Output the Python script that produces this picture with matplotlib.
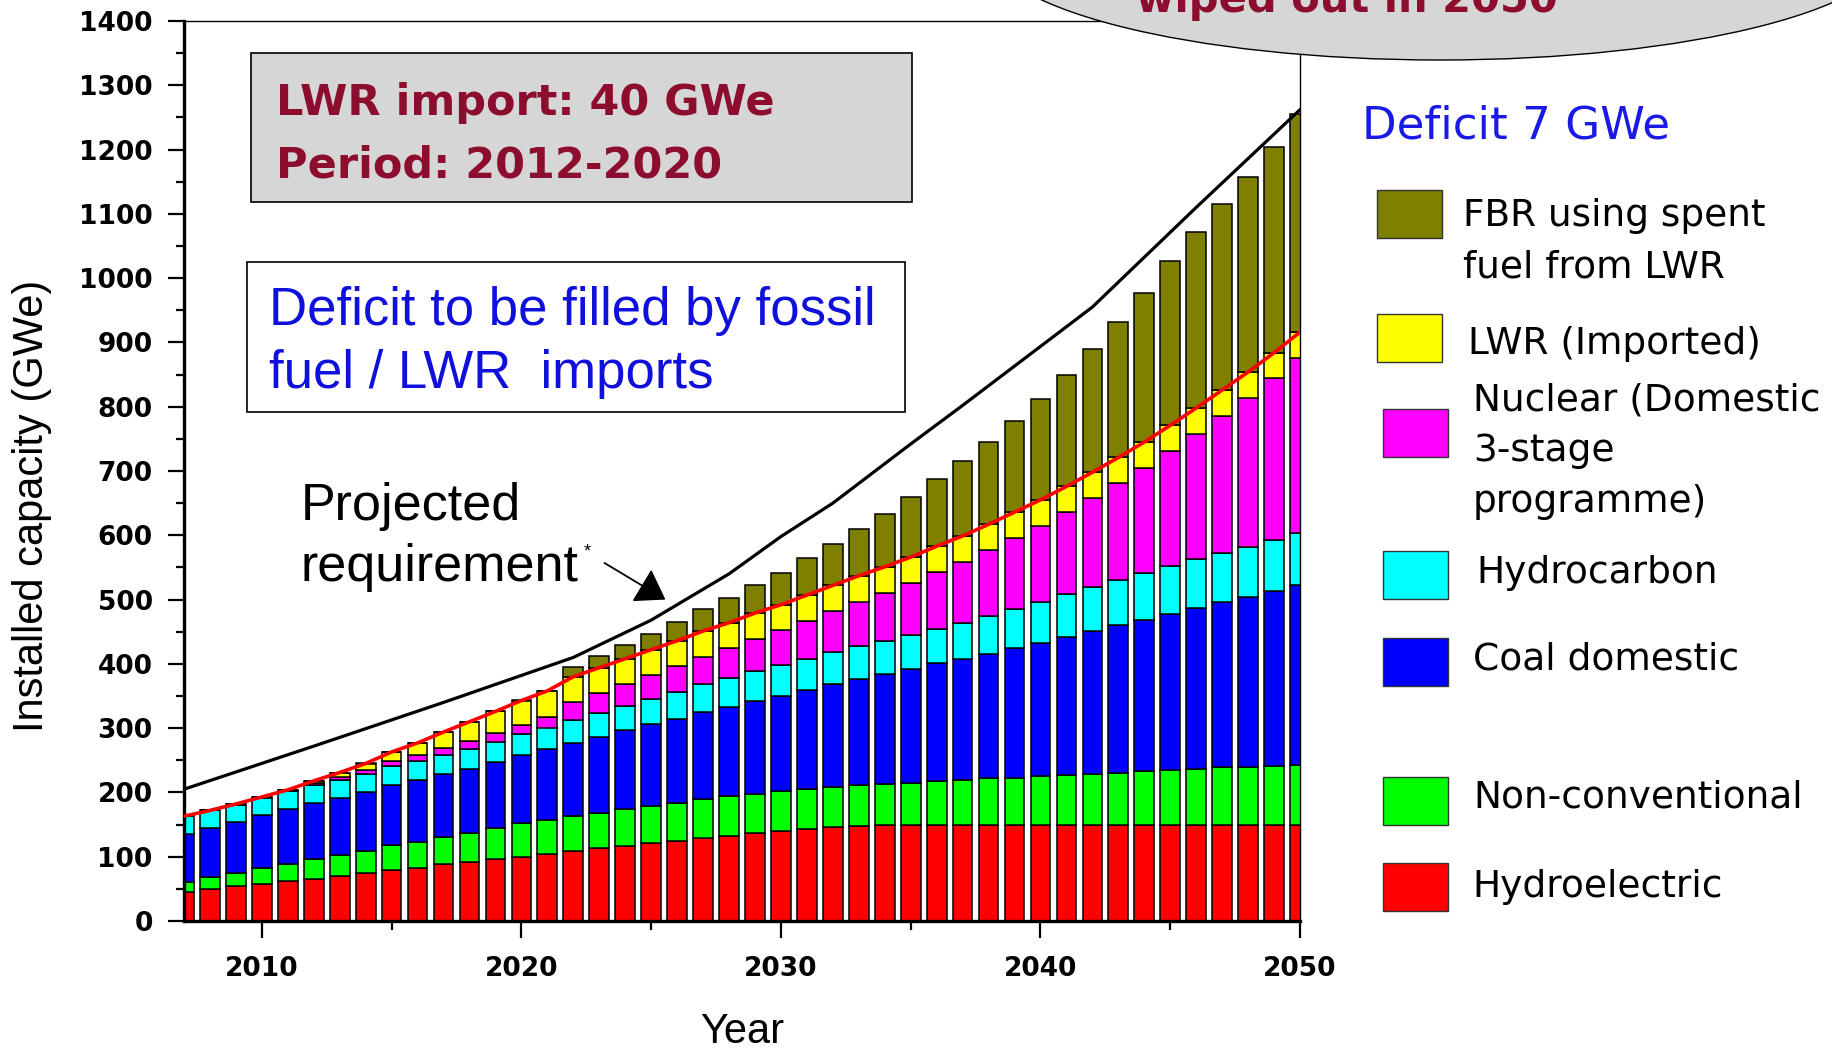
import matplotlib.pyplot as plt
import numpy as np
from matplotlib.patches import Rectangle, Ellipse

# installed capacity (GWe) per year
years = np.arange(2007, 2051)
hydro = [45, 50, 54, 58, 62, 66, 70, 74, 79, 83,
         88, 92, 96, 100, 105, 109, 113, 117, 121, 125,
         129, 133, 137, 140, 143, 146, 148, 150, 150, 150,
         150, 150, 150, 150, 150, 150, 150, 150, 150, 150,
         150, 150, 150, 150]
nonconv = [16, 18, 20, 25, 27, 31, 33, 35, 39, 40,
           42, 45, 48, 52, 52, 54, 55, 57, 58, 59,
           61, 61, 61, 62, 62, 62, 63, 63, 65, 68,
           70, 72, 73, 75, 77, 79, 81, 83, 85, 87,
           89, 90, 91, 93]
coal = [75, 77, 80, 82, 85, 87, 89, 92, 94, 96,
        98, 100, 103, 106, 110, 114, 119, 123, 127, 131,
        135, 139, 144, 148, 154, 160, 166, 171, 177, 183,
        188, 194, 201, 208, 215, 222, 229, 236, 243, 250,
        257, 264, 272, 280]
hydrocarbon = [27, 27, 27, 27, 28, 28, 28, 28, 29, 30,
               30, 31, 32, 33, 34, 35, 36, 37, 39, 41,
               43, 45, 47, 48, 49, 50, 51, 52, 53, 54,
               56, 59, 62, 64, 66, 68, 70, 72, 74, 76,
               77, 78, 79, 80]
nuclear = [0, 0, 1, 1, 2, 3, 4, 6, 8, 9,
           11, 12, 13, 14, 17, 28, 31, 34, 37, 40,
           43, 46, 50, 54, 59, 64, 69, 75, 81, 88,
           95, 102, 110, 118, 128, 139, 151, 164, 179, 195,
           213, 232, 252, 273]
lwr = [0, 0, 0, 0, 0, 3, 7, 10, 14, 19,
       25, 30, 34, 38, 40, 40, 40, 40, 40, 40,
       40, 40, 40, 40, 40, 40, 40, 40, 40, 40,
       40, 40, 40, 40, 40, 40, 40, 40, 40, 40,
       40, 40, 40, 40]
fbr = [0, 0, 0, 0, 0, 0, 0, 0, 0, 0,
       0, 0, 0, 0, 0, 15, 18, 22, 25, 29,
       34, 39, 44, 50, 57, 65, 73, 82, 93, 104,
       116, 128, 142, 157, 173, 191, 210, 232, 255, 274,
       290, 304, 320, 340]

req_years = [2007, 2012, 2017, 2022, 2025, 2028, 2030, 2032, 2035, 2037, 2042, 2046, 2050]
req_vals = [205, 272, 340, 410, 468, 540, 598, 650, 742, 802, 955, 1110, 1262]

series = [hydro, nonconv, coal, hydrocarbon, nuclear, lwr, fbr]
colors = ['#ff0000', '#00ff00', '#0000ff', '#00ffff', '#ff00ff', '#ffff00', '#808000']
labels = ['Hydroelectric', 'Non-conventional', 'Coal domestic', 'Hydrocarbon',
          'Nuclear (Domestic\n3-stage\nprogramme)', 'LWR (Imported)',
          'FBR using spent\nfuel from LWR']

W, H = 1833, 1052


def fx(x):
    return x / W


def fy(y):
    return 1 - y / H


fig = plt.figure(figsize=(W / 100, H / 100), dpi=100)
ax = fig.add_axes([fx(184), fy(921), (1300 - 184) / W, (921 - 21) / H])

bottom = np.zeros(len(years))
for vals, c in zip(series, colors):
    ax.bar(years, vals, bottom=bottom, width=0.76, color=c,
           edgecolor='black', linewidth=1.1, zorder=2)
    bottom += np.array(vals)

domestic = np.sum(series[:6], axis=0)
ax.plot(years, domestic, color='red', lw=2.6, zorder=4)
ax.plot(req_years, req_vals, color='black', lw=2.3, zorder=4)

ax.set_xlim(2007, 2050)
ax.set_ylim(0, 1400)
ax.set_xticks(range(2010, 2051, 10))
ax.set_xticks(range(2015, 2050, 10), minor=True)
ax.set_yticks(range(0, 1401, 100))
ax.set_yticks(range(50, 1400, 100), minor=True)
ax.tick_params(axis='both', which='both', direction='out', width=1.6,
               top=False, right=False)
ax.tick_params(axis='y', which='major', length=11.5, pad=11)
ax.tick_params(axis='y', which='minor', length=5.5)
ax.tick_params(axis='x', which='major', length=12, pad=13)
ax.tick_params(axis='x', which='minor', length=6.5)
for lab in ax.get_xticklabels() + ax.get_yticklabels():
    lab.set_fontweight('bold')
    lab.set_fontsize(19)
    lab.set_family('DejaVu Sans')
for s in ['left', 'bottom']:
    ax.spines[s].set_linewidth(2.4)
for s in ['top', 'right']:
    ax.spines[s].set_linewidth(1.0)

# axis titles
fig.text(fx(742), fy(1043), 'Year', fontsize=30, family='Liberation Sans',
         ha='center', va='baseline')
fig.text(fx(32), fy(506), 'Installed capacity (GWe)', fontsize=30,
         family='Liberation Sans', rotation=90, ha='center', va='center')

# bubble at the top right
fig.add_artist(Ellipse((fx(1440), fy(-57)), 912 / W, 234 / H, transform=fig.transFigure,
                       facecolor='#d6d6d6', edgecolor='black', lw=1.0, zorder=5))
fig.text(fx(1347), fy(12), 'wiped out in 2050', fontsize=30, fontweight='bold',
         color='#8c0d2e', ha='center', va='baseline', zorder=6)

# LWR import box
fig.add_artist(Rectangle((fx(251), fy(202)), (912 - 251) / W, (202 - 53) / H,
                         transform=fig.transFigure, facecolor='#d6d6d6',
                         edgecolor='black', lw=1.2, zorder=5))
fig.text(fx(276), fy(115), 'LWR import: 40 GWe', fontsize=31, fontweight='bold',
         color='#8c0d2e', va='baseline', zorder=6)
fig.text(fx(276), fy(177), 'Period: 2012-2020', fontsize=31, fontweight='bold',
         color='#8c0d2e', va='baseline', zorder=6)

# deficit box
fig.add_artist(Rectangle((fx(247), fy(412)), (905 - 247) / W, (412 - 262) / H,
                         transform=fig.transFigure, facecolor='white',
                         edgecolor='black', lw=1.2, zorder=5))
fig.text(fx(269), fy(325), 'Deficit to be filled by fossil', fontsize=38,
         family='Liberation Sans', color='#1010dd', va='baseline', zorder=6)
fig.text(fx(269), fy(388), 'fuel / LWR  imports', fontsize=38,
         family='Liberation Sans', color='#1010dd', va='baseline', zorder=6)

# projected requirement label and arrow
fig.text(fx(301), fy(520), 'Projected', fontsize=37.5, family='Liberation Sans',
         va='baseline')
fig.text(fx(301), fy(581), 'requirement', fontsize=37.5, family='Liberation Sans',
         va='baseline')
fig.text(fx(584), fy(556), '*', fontsize=13, family='Liberation Sans', va='baseline')
ax.annotate('', xy=(2025.55, 500), xytext=(2023.2, 557),
            arrowprops=dict(arrowstyle='-|>,head_length=0.6,head_width=0.4',
                            mutation_scale=30, lw=1.3, color='black',
                            shrinkA=0, shrinkB=0), zorder=5)

# legend on the right
fig.text(fx(1362), fy(138), 'Deficit 7 GWe', fontsize=32.5, color='#1a1ae6',
         va='baseline')
patch_top = [863, 777, 638, 551, 409, 314, 190]
patch_left = [1383, 1383, 1383, 1383, 1383, 1377, 1377]
text_left = [1472, 1473, 1473, 1476, 1473, 1468, 1463]
first_base = [897, 808, 670, 583, 410, 354, 226]
for lab, c, pt, pl, tl, fb in zip(labels, colors, patch_top, patch_left,
                                  text_left, first_base):
    fig.add_artist(Rectangle((fx(pl), fy(pt + 48)), 65 / W, 48 / H,
                             transform=fig.transFigure, facecolor=c,
                             edgecolor='#333333', lw=1.0))
    for i, line in enumerate(lab.split('\n')):
        fig.text(fx(tl), fy(fb + i * 51), line, fontsize=27, va='baseline')

fig.savefig('out.png', dpi=100)
